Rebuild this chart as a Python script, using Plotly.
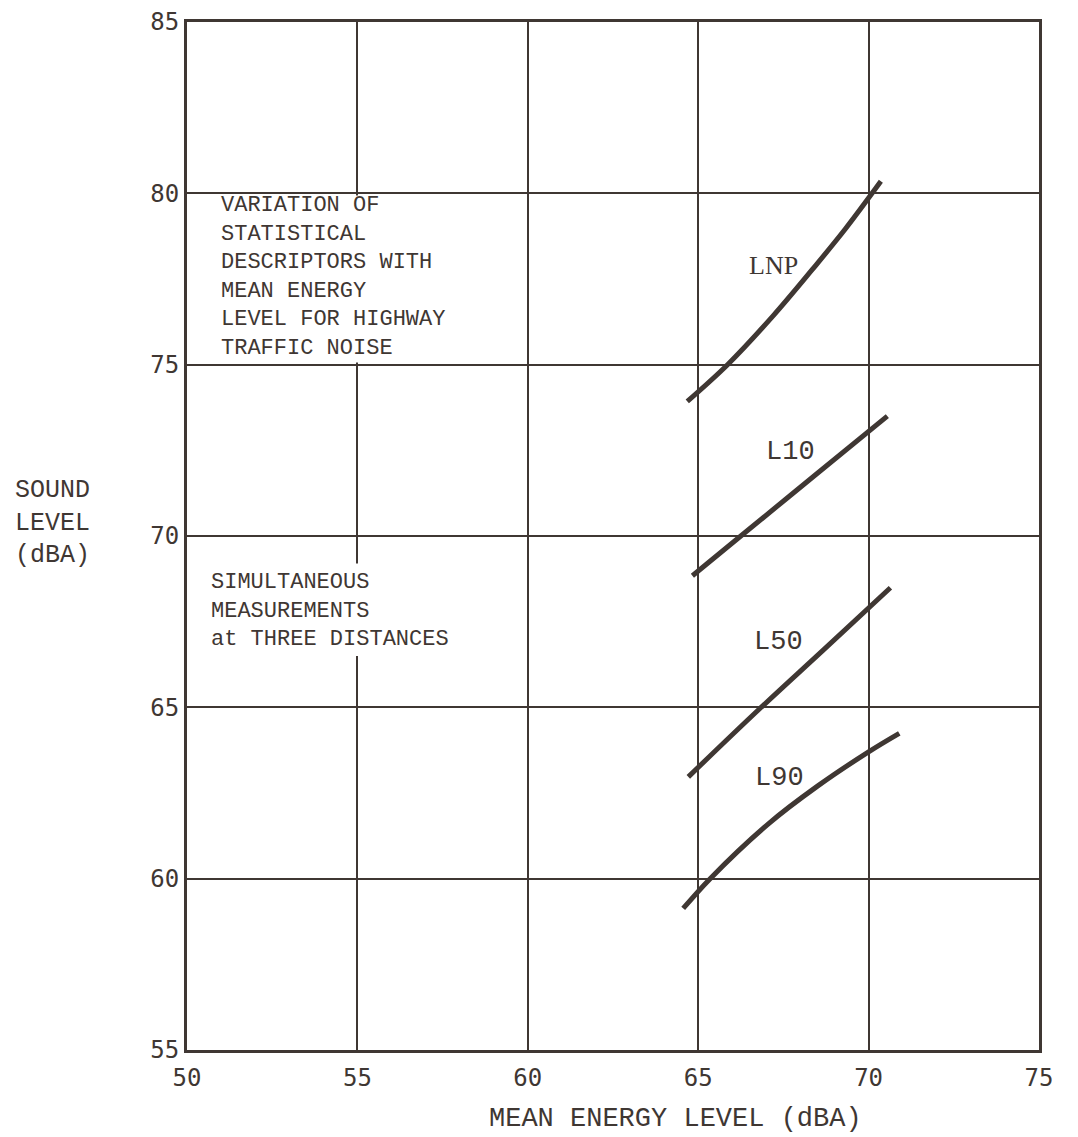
import plotly.graph_objects as go

# ---- data ----
lnp_x = [64.68, 65.86, 67.21, 68.35, 69.31, 70.36]
lnp_y = [73.93, 75.00, 76.44, 77.78, 78.95, 80.35]

l10_x = [64.83, 66.25, 68.40, 70.55]
l10_y = [68.84, 70.00, 71.75, 73.50]

l50_x = [64.71, 66.74, 68.70, 70.64]
l50_y = [62.97, 64.90, 66.70, 68.49]

l90_x = [64.56, 65.35, 67.06, 68.50, 70.00, 70.90]
l90_y = [59.13, 60.00, 61.60, 62.70, 63.70, 64.24]

curve_names = ["LNP", "L10", "L50", "L90"]
label_x = [67.2, 67.7, 67.35, 67.4]
label_y = [77.9, 72.45, 66.9, 62.95]

x_ticks = [50, 55, 60, 65, 70, 75]
y_ticks = [55, 60, 65, 70, 75, 80, 85]

block1_text = "VARIATION OF<br>STATISTICAL<br>DESCRIPTORS WITH<br>MEAN ENERGY<br>LEVEL FOR HIGHWAY<br>TRAFFIC NOISE"
block2_text = "SIMULTANEOUS<br>MEASUREMENTS<br>at THREE DISTANCES"
ytitle_text = "SOUND<br>LEVEL<br>(dBA)"
xtitle_text = "MEAN ENERGY LEVEL (dBA)"

INK = "#3f3733"
MONO = "Liberation Mono, Courier New, monospace"

# page offset of the figure (body margin)
OFF = 8
W, H = 1070, 1129
L, R, T, B = 187 - OFF, (OFF + W) - 1039, 22 - OFF, (OFF + H) - 1050
PW, PH = W - L - R, H - T - B


def px_to_paper_x(px):
    return (px - OFF - L) / PW


def py_to_paper_y(py):
    return (OFF + T + PH - py) / PH


fig = go.Figure()
for xs, ys, nm in zip([lnp_x, l10_x, l50_x, l90_x], [lnp_y, l10_y, l50_y, l90_y], curve_names):
    fig.add_trace(go.Scatter(x=xs, y=ys, mode="lines", name=nm,
                             line=dict(color=INK, width=5, shape="spline", smoothing=1.0),
                             showlegend=False, hoverinfo="skip"))

# white panels behind the text blocks (hide the grid lines there)
fig.add_shape(type="rect", xref="x", yref="y", x0=50.1, x1=59.75, y0=75.06, y1=79.94,
              fillcolor="white", line=dict(width=0), layer="between")
fig.add_shape(type="rect", xref="x", yref="y", x0=50.1, x1=59.75, y0=66.5, y1=69.2,
              fillcolor="white", line=dict(width=0), layer="between")

ann = []
ann.append(dict(x=50.93, y=77.545, xref="x", yref="y", text=block1_text, showarrow=False,
                align="left", xanchor="left", yanchor="middle",
                font=dict(family=MONO, size=22, color=INK)))
ann.append(dict(x=50.64, y=67.82, xref="x", yref="y", text=block2_text, showarrow=False,
                align="left", xanchor="left", yanchor="middle",
                font=dict(family=MONO, size=22, color=INK)))
for nm, lx, ly in zip(curve_names, label_x, label_y):
    fam = "Liberation Serif, Times New Roman, serif" if nm == "LNP" else MONO
    sz = 26 if nm == "LNP" else 27
    ann.append(dict(x=lx, y=ly, xref="x", yref="y", text=nm, showarrow=False,
                    xanchor="center", yanchor="middle", font=dict(family=fam, size=sz, color=INK)))
ann.append(dict(x=px_to_paper_x(52), y=py_to_paper_y(523), xref="paper", yref="paper",
                text=ytitle_text, showarrow=False, align="center", xanchor="center", yanchor="middle",
                font=dict(family=MONO, size=25, color=INK)))
ann.append(dict(x=px_to_paper_x(675), y=py_to_paper_y(1119), xref="paper", yref="paper",
                text=xtitle_text, showarrow=False, xanchor="center", yanchor="middle",
                font=dict(family=MONO, size=27, color=INK)))

fig.update_layout(
    width=W, height=H,
    margin=dict(l=L, r=R, t=T, b=B, pad=0, autoexpand=False),
    paper_bgcolor="white", plot_bgcolor="white",
    annotations=ann,
    xaxis=dict(range=[50, 75], tickvals=x_ticks, ticktext=[str(v) for v in x_ticks],
               showgrid=True, gridcolor=INK, gridwidth=1.8, zeroline=False,
               showline=True, linecolor=INK, linewidth=3, mirror=True,
               ticks="", ticklabelstandoff=4, automargin=False, ticklabeloverflow="allow",
               tickfont=dict(family="DejaVu Sans Mono, monospace", size=24, color=INK)),
    yaxis=dict(range=[55, 85], tickvals=y_ticks, ticktext=[str(v) for v in y_ticks],
               showgrid=True, gridcolor=INK, gridwidth=1.8, zeroline=False,
               showline=True, linecolor=INK, linewidth=3, mirror=True,
               ticks="", ticklabelstandoff=0, automargin=False, ticklabeloverflow="allow",
               tickfont=dict(family="DejaVu Sans Mono, monospace", size=24, color=INK)),
)

fig.write_html("out.html")
